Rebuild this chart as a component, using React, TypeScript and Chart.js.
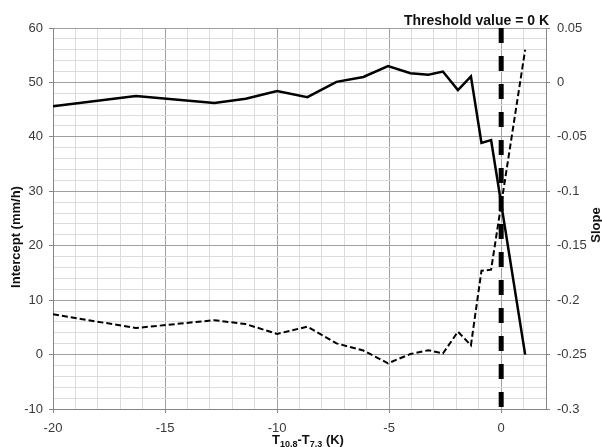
import { useEffect, useRef } from "react";
import { Chart, registerables } from "chart.js";

Chart.register(...registerables);

// ---- data ----
const xValues = [-20, -16.3, -12.8, -11.4, -10, -8.65, -7.35, -6.15, -5.05, -4.05, -3.25, -2.6, -1.93, -1.35, -0.88, -0.45, 1.07];
const interceptValues = [45.6, 47.5, 46.2, 47.0, 48.4, 47.3, 50.1, 51.0, 53.0, 51.7, 51.4, 52.0, 48.6, 51.1, 38.9, 39.4, 0];
const slopeValues = [-0.213, -0.2256, -0.2184, -0.222, -0.231, -0.2244, -0.2397, -0.2463, -0.258, -0.2495, -0.246, -0.249, -0.229, -0.2415, -0.173, -0.172, 0.03];
const thresholdX = 0;
const thresholdSpan = [60, -10];

const xRange = [-20, 2];
const leftRange = [-10, 60];
const rightRange = [-0.3, 0.05];

const thresholdLabel = "Threshold value = 0 K";
const leftTitle = "Intercept (mm/h)";
const rightTitle = "Slope";
const xTitleParts = [
  { t: "T", sub: false },
  { t: "10.8", sub: true },
  { t: "-T", sub: false },
  { t: "7.3", sub: true },
  { t: " (K)", sub: false },
];

const FONT = "'Liberation Sans', Arial, sans-serif";
const MAJOR_GRID = "#a0a0a0";
const MINOR_GRID = "#dcdcdc";
const AXIS = "#868686";
const TICK_TEXT = "#3a3a3a";

const textPlugin = {
  id: "texts",
  afterDraw(chart: any) {
    const ctx = chart.ctx as CanvasRenderingContext2D;
    ctx.save();
    ctx.fillStyle = "#111";
    // threshold label
    ctx.font = `bold 14px ${FONT}`;
    ctx.textAlign = "right";
    ctx.textBaseline = "alphabetic";
    ctx.fillText(thresholdLabel, 549, 25);

    // left title
    ctx.font = `bold 13px ${FONT}`;
    ctx.save();
    ctx.translate(16, 237);
    ctx.rotate(-Math.PI / 2);
    ctx.textAlign = "center";
    ctx.textBaseline = "middle";
    ctx.fillText(leftTitle, 0, 0);
    ctx.restore();

    // right title
    ctx.save();
    ctx.translate(596, 225);
    ctx.rotate(-Math.PI / 2);
    ctx.textAlign = "center";
    ctx.textBaseline = "middle";
    ctx.fillText(rightTitle, 0, 0);
    ctx.restore();

    // x title with subscripts
    const mainFont = `bold 13px ${FONT}`;
    const subFont = `bold 9px ${FONT}`;
    let total = 0;
    for (const p of xTitleParts) {
      ctx.font = p.sub ? subFont : mainFont;
      total += ctx.measureText(p.t).width;
    }
    let x = 308 - total / 2;
    const base = 444;
    ctx.textAlign = "left";
    ctx.textBaseline = "alphabetic";
    for (const p of xTitleParts) {
      ctx.font = p.sub ? subFont : mainFont;
      ctx.fillText(p.t, x, p.sub ? base + 3 : base);
      x += ctx.measureText(p.t).width;
    }
    ctx.restore();
  },
};

export default function App() {
  const ref = useRef<HTMLCanvasElement | null>(null);

  useEffect(() => {
    if (!ref.current) return;
    const chart = new Chart(ref.current, {
      type: "line",
      data: {
        datasets: [
          {
            label: "Threshold",
            data: thresholdSpan.map((y) => ({ x: thresholdX, y })),
            borderColor: "#000",
            borderWidth: 5,
            borderDash: [15, 13],
            pointRadius: 0,
            yAxisID: "y",
            order: 0,
          },
          {
            label: "Intercept",
            data: xValues.map((x, i) => ({ x, y: interceptValues[i] })),
            borderColor: "#000",
            borderWidth: 2.5,
            pointRadius: 0,
            tension: 0,
            yAxisID: "y",
            order: 1,
          },
          {
            label: "Slope",
            data: xValues.map((x, i) => ({ x, y: slopeValues[i] })),
            borderColor: "#000",
            borderWidth: 2,
            borderDash: [6, 3],
            pointRadius: 0,
            tension: 0,
            yAxisID: "y1",
            order: 2,
          },
        ],
      },
      options: {
        responsive: false,
        animation: false,
        devicePixelRatio: 1,
        layout: { padding: { top: 28, left: 0, right: 0, bottom: 0 } },
        plugins: { legend: { display: false }, tooltip: { enabled: false } },
        scales: {
          x: {
            type: "linear",
            min: xRange[0],
            max: xRange[1],
            afterFit: (s: any) => {
              s.height = 38;
            },
            ticks: {
              stepSize: 1,
              autoSkip: false,
              maxRotation: 0,
              padding: 8,
              color: TICK_TEXT,
              font: { family: FONT, size: 13 },
              callback: (v: any) => (Number(v) % 5 === 0 ? String(v) : ""),
            },
            grid: {
              color: (c: any) => (c.tick && c.tick.value % 5 === 0 ? MAJOR_GRID : MINOR_GRID),
              tickColor: (c: any) => (c.tick && c.tick.value % 5 === 0 ? AXIS : "rgba(0,0,0,0)"),
              tickLength: 4,
            },
            border: { color: AXIS, width: 1 },
          },
          y: {
            type: "linear",
            position: "left",
            min: leftRange[0],
            max: leftRange[1],
            afterFit: (s: any) => {
              s.width = 53;
            },
            ticks: {
              stepSize: 2,
              autoSkip: false,
              padding: 6,
              color: TICK_TEXT,
              font: { family: FONT, size: 13 },
              callback: (v: any) => (Number(v) % 10 === 0 ? String(v) : ""),
            },
            grid: {
              color: (c: any) => (c.tick && c.tick.value % 10 === 0 ? MAJOR_GRID : MINOR_GRID),
              tickColor: (c: any) => (c.tick && c.tick.value % 10 === 0 ? AXIS : "rgba(0,0,0,0)"),
              tickLength: 4,
            },
            border: { color: AXIS, width: 1 },
          },
          y1: {
            type: "linear",
            position: "right",
            min: rightRange[0],
            max: rightRange[1],
            afterFit: (s: any) => {
              s.width = 56;
            },
            ticks: {
              stepSize: 0.05,
              autoSkip: false,
              padding: 7,
              color: TICK_TEXT,
              font: { family: FONT, size: 13 },
              callback: (v: any) => String(Math.round(Number(v) * 100) / 100),
            },
            grid: {
              drawOnChartArea: false,
              tickColor: AXIS,
              tickLength: 4,
            },
            border: { color: AXIS, width: 1 },
          },
        },
      },
      plugins: [textPlugin],
    });
    return () => chart.destroy();
  }, []);

  return (
    <div style={{ position: "absolute", left: 0, top: 0, width: 602, height: 447, background: "#fff" }}>
      <canvas ref={ref} width={602} height={447} style={{ display: "block" }} />
    </div>
  );
}
